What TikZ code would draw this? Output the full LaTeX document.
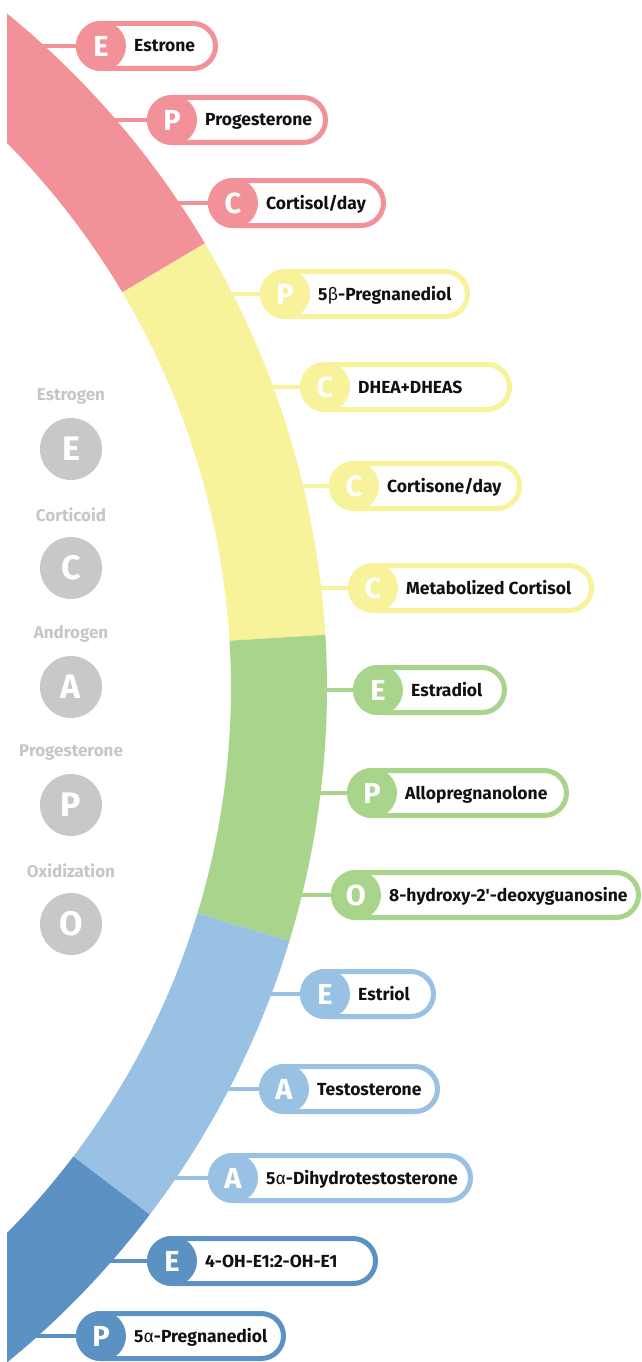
\documentclass[tikz,border=0pt]{standalone}
\usepackage{fontspec}
\setmainfont{Fira Sans}
\definecolor{pinkc}{HTML}{F39199}
\definecolor{yellowc}{HTML}{F8F39B}
\definecolor{greenc}{HTML}{A8D58B}
\definecolor{lbluec}{HTML}{98C1E3}
\definecolor{dbluec}{HTML}{5B91C3}
\definecolor{grayc}{HTML}{C8C8C8}
\definecolor{graytext}{HTML}{C6C6C6}
\definecolor{labtext}{HTML}{111111}
\tikzset{
  pillbox/.style={draw=#1, line width=5pt, fill=white, rounded corners=22.5pt,
    minimum height=45pt, inner sep=0pt, rectangle},
  conn/.style={draw=#1, line width=4pt},
  disc/.style={circle, fill=#1, minimum size=50pt, inner sep=0pt, text=white,
    font=\bfseries\fontsize{29}{29}\selectfont},
  lab/.style={inner sep=0pt, text=labtext, font=\bfseries\fontsize{17.5}{18}\selectfont},
  legtext/.style={inner sep=0pt, text=graytext, font=\bfseries\fontsize{17}{18}\selectfont},
  gdisc/.style={circle, fill=grayc, minimum size=62pt, inner sep=0pt, text=white,
    font=\bfseries\fontsize{34}{34}\selectfont},
}
\newcommand\gr[1]{{\fontseries{m}\selectfont #1}}
\newcommand\hormone[8]{%
  \coordinate (s#1) at (#8,#2);
  \node[pillbox=#5, minimum width={(#4-#3-5)*1pt}] (p#1) at ({(#3+#4)/2},#2) {};
  \draw[conn=#5] (s#1) -- (p#1.west);
  \node[disc=#5] (d#1) at ({#3+25},#2) {#6};
  \node[lab, anchor=base west] (t#1) at ({#3+58},{#2+6}) {#7};
}
\begin{document}
\begin{tikzpicture}[x=1pt,y=-1pt]
\useasboundingbox (0,0) rectangle (642,1362);
% band
\begin{scope}
\clip (7,0) rectangle (642,1362);
\begin{scope}[shift={(-544,688)}]
\fill[pinkc] plot[domain=-60:-30.7,samples=40] (\x:871) -- plot[domain=-30.7:-60,samples=40] (\x:775) -- cycle;
\fill[yellowc] plot[domain=-30.7:-3.5,samples=40] (\x:871) -- plot[domain=-3.5:-30.7,samples=40] (\x:775) -- cycle;
\fill[greenc] plot[domain=-3.5:16.9,samples=40] (\x:871) -- plot[domain=16.9:-3.5,samples=40] (\x:775) -- cycle;
\fill[lbluec] plot[domain=16.9:37.2,samples=40] (\x:871) -- plot[domain=37.2:16.9,samples=40] (\x:775) -- cycle;
\fill[dbluec] plot[domain=37.2:60,samples=40] (\x:871) -- plot[domain=60:37.2,samples=40] (\x:775) -- cycle;
\end{scope}
\end{scope}
% items
\hormone{1}{46}{76}{218}{pinkc}{E}{Estrone}{35}
\hormone{2}{120}{147}{328}{pinkc}{P}{Progesterone}{106}
\hormone{3}{203}{208}{386}{pinkc}{C}{Cortisol/day}{170}
\hormone{4}{294}{260}{470}{yellowc}{P}{5\gr{β}-Pregnanediol}{223}
\hormone{5}{387}{300}{512}{yellowc}{C}{DHEA+DHEAS}{263}
\hormone{6}{486}{329}{522}{yellowc}{C}{Cortisone/day}{293}
\hormone{7}{588}{348}{594}{yellowc}{C}{Metabolized Cortisol}{311}
\hormone{8}{690}{353}{507}{greenc}{E}{Estradiol}{317}
\hormone{9}{793}{347}{569}{greenc}{P}{Allopregnanolone}{311}
\hormone{10}{895}{331}{641}{greenc}{O}{8-hydroxy-2\textquotesingle-deoxyguanosine}{292}
\hormone{11}{994}{300}{436}{lbluec}{E}{Estriol}{262}
\hormone{12}{1089}{259}{440}{lbluec}{A}{Testosterone}{219}
\hormone{13}{1178}{208}{473}{lbluec}{A}{5\gr{α}-Dihydrotestosterone}{166}
\hormone{14}{1261}{147}{378}{dbluec}{E}{4-OH-E1:2-OH-E1}{102}
\hormone{15}{1336}{76}{286}{dbluec}{P}{5\gr{α}-Pregnanediol}{28}
% legend
\node[legtext] (lE) at (71,396) {Estrogen};
\node[gdisc] (gE) at (71,449) {E};
\node[legtext] (lC) at (71,515) {Corticoid};
\node[gdisc] (gC) at (71,568) {C};
\node[legtext] (lA) at (71,634) {Androgen};
\node[gdisc] (gA) at (71,687) {A};
\node[legtext] (lP) at (71,752) {Progesterone};
\node[gdisc] (gP) at (71,805) {P};
\node[legtext] (lO) at (71,871) {Oxidization};
\node[gdisc] (gO) at (71,924) {O};
\end{tikzpicture}
\end{document}
